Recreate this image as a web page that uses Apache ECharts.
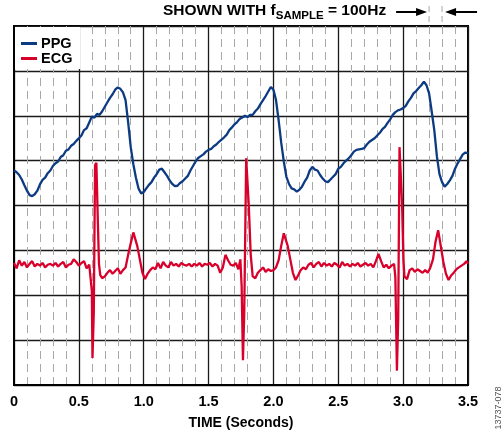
<!DOCTYPE html>
<html>
<head>
<meta charset="utf-8">
<script src="https://cdn.jsdelivr.net/npm/echarts@6/dist/echarts.min.js"></script>
<style>
  html, body { margin: 0; padding: 0; background: #fff; }
  #chart { width: 503px; height: 435px; }
</style>
</head>
<body>
<div id="chart"></div>
<script>
// PPG sampled every 0.02 s from 0 to 3.5 s (values in grid divisions)
const ppgStep = 0.02;
const ppgValues = [
  4.78, 4.74, 4.68, 4.58, 4.45, 4.33, 4.23, 4.21, 4.25, 4.33,
  4.47, 4.57, 4.62, 4.72, 4.78, 4.88, 4.94, 4.98, 5.08, 5.12,
  5.22, 5.25, 5.33, 5.37, 5.44, 5.50, 5.56, 5.68, 5.72, 5.85,
  5.98, 5.96, 6.04, 6.02, 6.10, 6.20, 6.30, 6.40, 6.48, 6.58,
  6.63, 6.60, 6.52, 6.35, 5.85, 5.30, 4.92, 4.62, 4.38, 4.27,
  4.30, 4.38, 4.46, 4.52, 4.62, 4.70, 4.80, 4.82, 4.74, 4.66,
  4.56, 4.48, 4.43, 4.44, 4.50, 4.54, 4.60, 4.66, 4.78, 4.88,
  4.98, 5.06, 5.10, 5.14, 5.20, 5.24, 5.26, 5.32, 5.36, 5.42,
  5.47, 5.52, 5.58, 5.68, 5.74, 5.81, 5.86, 5.93, 5.96, 6.00,
  5.97, 6.02, 6.02, 6.10, 6.16, 6.26, 6.35, 6.44, 6.54, 6.64,
  6.58, 6.35, 5.90, 5.40, 4.98, 4.64, 4.48, 4.38, 4.36, 4.31,
  4.35, 4.42, 4.53, 4.62, 4.78, 4.86, 4.80, 4.78, 4.68, 4.60,
  4.54, 4.52, 4.58, 4.64, 4.70, 4.82, 4.86, 4.94, 5.00, 5.05,
  5.12, 5.20, 5.24, 5.25, 5.26, 5.28, 5.36, 5.42, 5.46, 5.50,
  5.56, 5.62, 5.70, 5.75, 5.84, 5.92, 6.02, 6.08, 6.12, 6.14,
  6.17, 6.22, 6.32, 6.40, 6.50, 6.55, 6.62, 6.68, 6.76, 6.68,
  6.50, 6.10, 5.68, 5.10, 4.70, 4.52, 4.42, 4.48, 4.56, 4.66,
  4.82, 4.94, 5.04, 5.14, 5.18, 5.16
];

// ECG (time in s, value in grid divisions)
const ecgTimes = [
  0.00, 0.02, 0.04, 0.06, 0.08, 0.10, 0.12, 0.14, 0.16, 0.18,
  0.20, 0.22, 0.24, 0.26, 0.28, 0.30, 0.32, 0.34, 0.36, 0.38,
  0.40, 0.42, 0.44, 0.46, 0.48, 0.50, 0.52, 0.54, 0.56, 0.58,
  0.59, 0.60, 0.605, 0.615, 0.625, 0.635, 0.645, 0.655, 0.665, 0.68,
  0.70, 0.72, 0.74, 0.76, 0.78, 0.80, 0.82, 0.84, 0.86, 0.88,
  0.90, 0.92, 0.93, 0.95, 0.97, 0.99, 1.01, 1.03, 1.05, 1.07,
  1.09, 1.11, 1.13, 1.15, 1.17, 1.19, 1.21, 1.23, 1.25, 1.27,
  1.29, 1.31, 1.33, 1.35, 1.37, 1.39, 1.41, 1.43, 1.45, 1.47,
  1.49, 1.51, 1.53, 1.55, 1.57, 1.59, 1.61, 1.63, 1.65, 1.67,
  1.69, 1.71, 1.73, 1.745, 1.755, 1.765, 1.775, 1.79, 1.80, 1.81,
  1.825, 1.84, 1.86, 1.88, 1.90, 1.92, 1.94, 1.96, 1.98, 2.00,
  2.02, 2.04, 2.06, 2.08, 2.09, 2.11, 2.13, 2.15, 2.17, 2.19,
  2.21, 2.23, 2.25, 2.27, 2.29, 2.31, 2.33, 2.35, 2.37, 2.39,
  2.41, 2.43, 2.45, 2.47, 2.49, 2.51, 2.53, 2.55, 2.57, 2.59,
  2.61, 2.63, 2.65, 2.67, 2.69, 2.71, 2.73, 2.75, 2.77, 2.79,
  2.81, 2.83, 2.85, 2.87, 2.89, 2.91, 2.93, 2.94, 2.952, 2.962,
  2.972, 2.982, 2.992, 3.002, 3.01, 3.03, 3.05, 3.07, 3.09, 3.11,
  3.13, 3.15, 3.17, 3.19, 3.21, 3.23, 3.25, 3.27, 3.29, 3.31,
  3.33, 3.35, 3.37, 3.39, 3.41, 3.43, 3.45, 3.47, 3.49, 3.50
];
const ecgValues = [
  2.72, 2.60, 2.78, 2.66, 2.74, 2.62, 2.70, 2.76, 2.64, 2.70,
  2.66, 2.72, 2.62, 2.68, 2.70, 2.66, 2.72, 2.64, 2.70, 2.74,
  2.62, 2.68, 2.70, 2.80, 2.74, 2.66, 2.72, 2.76, 2.60, 2.68,
  2.66, 2.10, 0.60, 1.60, 4.90, 4.95, 3.80, 2.70, 2.45, 2.38,
  2.42, 2.50, 2.56, 2.48, 2.54, 2.60, 2.48, 2.56, 2.62, 2.90,
  3.16, 3.40, 3.42, 3.10, 2.80, 2.50, 2.36, 2.48, 2.56, 2.62,
  2.58, 2.72, 2.60, 2.74, 2.66, 2.62, 2.74, 2.66, 2.70, 2.64,
  2.72, 2.68, 2.66, 2.70, 2.64, 2.70, 2.66, 2.72, 2.64, 2.70,
  2.68, 2.72, 2.64, 2.70, 2.66, 2.50, 2.62, 2.90, 2.78, 2.68,
  2.66, 2.72, 2.58, 2.80, 2.20, 0.55, 1.60, 5.05, 5.08, 4.00,
  2.90, 2.42, 2.38, 2.50, 2.56, 2.62, 2.52, 2.58, 2.54, 2.56,
  2.62, 2.78, 3.10, 3.38, 3.42, 3.10, 2.80, 2.50, 2.34, 2.44,
  2.56, 2.62, 2.58, 2.68, 2.72, 2.62, 2.70, 2.74, 2.64, 2.72,
  2.66, 2.70, 2.64, 2.72, 2.68, 2.62, 2.74, 2.66, 2.70, 2.64,
  2.70, 2.66, 2.72, 2.64, 2.68, 2.72, 2.66, 2.70, 2.62, 2.76,
  2.92, 2.76, 2.62, 2.68, 2.60, 2.66, 2.70, 2.40, 0.32, 1.50,
  5.30, 5.28, 4.00, 2.80, 2.42, 2.36, 2.56, 2.60, 2.52, 2.58,
  2.54, 2.50, 2.56, 2.50, 2.62, 2.80, 3.20, 3.45, 3.10, 2.74,
  2.48, 2.34, 2.44, 2.50, 2.58, 2.62, 2.66, 2.70, 2.76, 2.70
];

const seriesNames = ['PPG', 'ECG'];
const xTickLabels = ['0', '0.5', '1.0', '1.5', '2.0', '2.5', '3.0', '3.5'];
const sampleMarks = [3.2, 3.3]; // the two sample instants marked by the arrows

const ppgData = ppgValues.map((v, i) => [+(i * ppgStep).toFixed(2), v]);
const ecgData = ecgTimes.map((t, i) => [t, ecgValues[i]]);

const font = '"Liberation Sans", Arial, sans-serif';
const chart = echarts.init(document.getElementById('chart'), null, { renderer: 'canvas' });

const option = {
  animation: false,
  backgroundColor: '#fff',
  grid: {
    left: 14, right: 35, top: 26, bottom: 50,
    outerBoundsMode: 'none', containLabel: false,
    show: true, borderColor: '#000', borderWidth: 2
  },
  legend: {
    data: seriesNames,
    orient: 'vertical',
    left: 15,
    top: 27,
    itemWidth: 16,
    itemHeight: 3,
    itemGap: 0,
    icon: 'rect',
    backgroundColor: '#fff',
    padding: [9, 8, 3, 6],
    textStyle: { fontFamily: font, fontWeight: 'bold', fontSize: 14.5, color: '#000', padding: [0, 0, 0, -1] }
  },
  xAxis: {
    type: 'value',
    min: 0,
    max: 3.5,
    interval: 0.5,
    name: 'TIME (Seconds)',
    nameLocation: 'middle',
    nameGap: 31,
    nameTextStyle: { fontFamily: font, fontWeight: 'bold', fontSize: 14, color: '#000' },
    axisLine: { show: true, lineStyle: { color: '#000', width: 2 } },
    axisTick: { show: false },
    minorTick: { show: false, splitNumber: 5 },
    axisLabel: {
      fontFamily: font, fontWeight: 'bold', fontSize: 14.5, color: '#000', margin: 9,
      formatter: v => xTickLabels[Math.round(v / 0.5)]
    },
    splitLine: { show: true, lineStyle: { color: '#1a1a1a', width: 1.3 } },
    minorSplitLine: { show: true, lineStyle: { color: '#a8a8a8', width: 1, type: [8, 5] } }
  },
  yAxis: {
    type: 'value',
    min: 0,
    max: 8,
    interval: 1,
    axisLine: { show: true, lineStyle: { color: '#000', width: 2 } },
    axisTick: { show: false },
    axisLabel: { show: false },
    splitLine: { show: true, lineStyle: { color: '#1a1a1a', width: 1.3 } }
  },
  series: [
    {
      name: 'PPG', type: 'line', data: ppgData, showSymbol: false, z: 3,
      color: '#0d3b83', lineStyle: { width: 2.3, color: '#0d3b83' }
    },
    {
      name: 'ECG', type: 'line', data: ecgData, showSymbol: false, z: 4,
      color: '#d9002c', lineStyle: { width: 2.3, color: '#d9002c' }
    }
  ]
};
chart.setOption(option);

// sample-interval annotation above the plot, placed from the x axis
const xa = chart.convertToPixel({ xAxisIndex: 0 }, sampleMarks[0]);
const xb = chart.convertToPixel({ xAxisIndex: 0 }, sampleMarks[1]);
const plotTop = 26;
const arrowY = 12;
chart.setOption({
  graphic: [
    {
      type: 'line', shape: { x1: xa, y1: 6, x2: xa, y2: plotTop },
      style: { stroke: '#a8a8a8', lineWidth: 1, lineDash: [6, 4] }
    },
    {
      type: 'line', shape: { x1: xb, y1: 6, x2: xb, y2: plotTop },
      style: { stroke: '#a8a8a8', lineWidth: 1, lineDash: [6, 4] }
    },
    {
      type: 'line', shape: { x1: xa - 33, y1: arrowY, x2: xa - 10, y2: arrowY },
      style: { stroke: '#000', lineWidth: 2 }
    },
    {
      type: 'polygon', shape: { points: [[xa - 2, arrowY], [xa - 13, arrowY - 4], [xa - 13, arrowY + 4]] },
      style: { fill: '#000' }
    },
    {
      type: 'line', shape: { x1: xb + 12, y1: arrowY, x2: xb + 35, y2: arrowY },
      style: { stroke: '#000', lineWidth: 2 }
    },
    {
      type: 'polygon', shape: { points: [[xb + 3, arrowY], [xb + 14, arrowY - 4], [xb + 14, arrowY + 4]] },
      style: { fill: '#000' }
    },
    {
      type: 'text', left: 163, top: 3,
      style: {
        text: '{a|SHOWN WITH f}{b|SAMPLE}{a| = 100Hz}',
        fontFamily: font,
        rich: {
          a: { fontFamily: font, fontWeight: 'bold', fontSize: 15.5, fill: '#000', lineHeight: 18 },
          b: { fontFamily: font, fontWeight: 'bold', fontSize: 11.5, fill: '#000', padding: [9, 0, 0, 0] }
        }
      }
    },
    {
      type: 'text', x: 499, y: 408, rotation: Math.PI / 2,
      style: {
        text: '13737-078', fontFamily: font, fontSize: 9, fill: '#555',
        align: 'center', verticalAlign: 'middle'
      }
    }
  ]
});
</script>
</body>
</html>
